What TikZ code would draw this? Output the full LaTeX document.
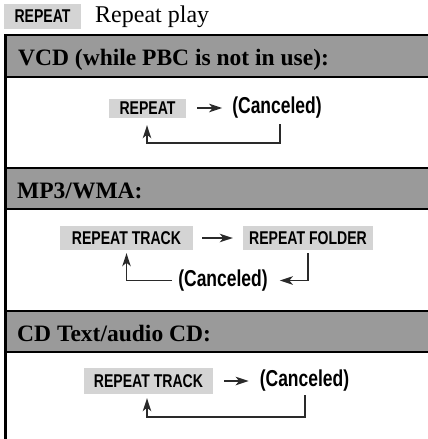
\documentclass[tikz,border=0pt]{standalone}
\usepackage{fontspec}
\setmainfont{Liberation Serif}
\newfontfamily\keyfont[FakeStretch=0.76]{Liberation Sans}
\usetikzlibrary{arrows.meta}
\definecolor{bandgray}{HTML}{9A9A9A}
\definecolor{keygray}{HTML}{D4D4D4}
\definecolor{linegray}{HTML}{2A2A2A}
\tikzset{
  keybox/.style={fill=keygray, inner sep=0pt, font=\keyfont\bfseries\fontsize{18.5}{19}\selectfont},
  cancel/.style={inner sep=0pt, font=\keyfont\bfseries\fontsize{23}{23}\selectfont},
  head/.style={anchor=base west, inner sep=0pt, font=\bfseries\fontsize{23.5}{24}\selectfont},
  flow/.style={draw=linegray, line width=1.6pt, -{Stealth[length=13pt,width=8.5pt,inset=3.5pt]}},
  band/.style={fill=bandgray},
}

\begin{document}
\begin{tikzpicture}[x=1pt,y=-1pt]
            \useasboundingbox (0,0) rectangle (428,439);

            \node[keybox, minimum width=77pt, minimum height=25pt] (kt) at (42.5,16.5) {REPEAT};
            \node[anchor=base west, inner sep=0pt, font=\fontsize{24}{25}\selectfont] (tt) at (95,22.5) {Repeat play};

            \fill[band] (5.5,35) rectangle (430,77);
            \fill[band] (5.5,168) rectangle (430,209);
            \fill[band] (5.5,311) rectangle (430,352);
            \draw[line width=2pt] (5.5,35) -- (430,35);
            \draw[line width=2pt] (5.5,77) -- (430,77);
            \draw[line width=2pt] (5.5,168) -- (430,168);
            \draw[line width=2pt] (5.5,209) -- (430,209);
            \draw[line width=2pt] (5.5,311) -- (430,311);
            \draw[line width=2pt] (5.5,352) -- (430,352);
            \draw[line width=2.5pt] (5.5,34) -- (5.5,439);

            \node[head] (h1) at (18,65.5) {VCD (while PBC is not in use):};
            \node[head] (h2) at (17,198.5) {MP3/WMA:};
            \node[head] (h3) at (17,341) {CD Text/audio CD:};

            \node[keybox, minimum width=77pt, minimum height=19pt] (rp1) at (147.5,108) {REPEAT};
            \node[cancel] (cn1) at (277,108) {(Canceled)};
            \coordinate (c1) at (280,124);
            \coordinate (b1) at (147,143);
            \draw[flow, shorten <=11pt, shorten >=10pt] (rp1) -- (cn1);
            \draw[flow, shorten >=7.5pt] (c1) |- (b1) -- (b1 |- rp1.south);

            \node[keybox, minimum width=133pt, minimum height=24pt] (tr2) at (126.5,238) {REPEAT TRACK};
            \node[keybox, minimum width=130pt, minimum height=24pt] (fd2) at (308,238) {REPEAT FOLDER};
            \node[cancel] (cn2) at (223,280.5) {(Canceled)};
            \draw[flow, shorten <=9pt, shorten >=10pt] (tr2) -- (fd2);
            \draw[flow, shorten <=3pt, shorten >=12pt] (fd2) |- (cn2);
            \draw[flow, shorten <=6pt, shorten >=3pt] (cn2) -| (tr2);

            \node[keybox, minimum width=129pt, minimum height=26pt] (tr3) at (148.5,381) {REPEAT TRACK};
            \node[cancel] (cn3) at (304.5,381) {(Canceled)};
            \coordinate (c3) at (305,395);
            \coordinate (b3) at (147,417);
            \draw[flow, shorten <=11pt, shorten >=11pt] (tr3) -- (cn3);
            \draw[flow, shorten >=4pt] (c3) |- (b3) -- (b3 |- tr3.south);
    \end{tikzpicture}
\end{document}
